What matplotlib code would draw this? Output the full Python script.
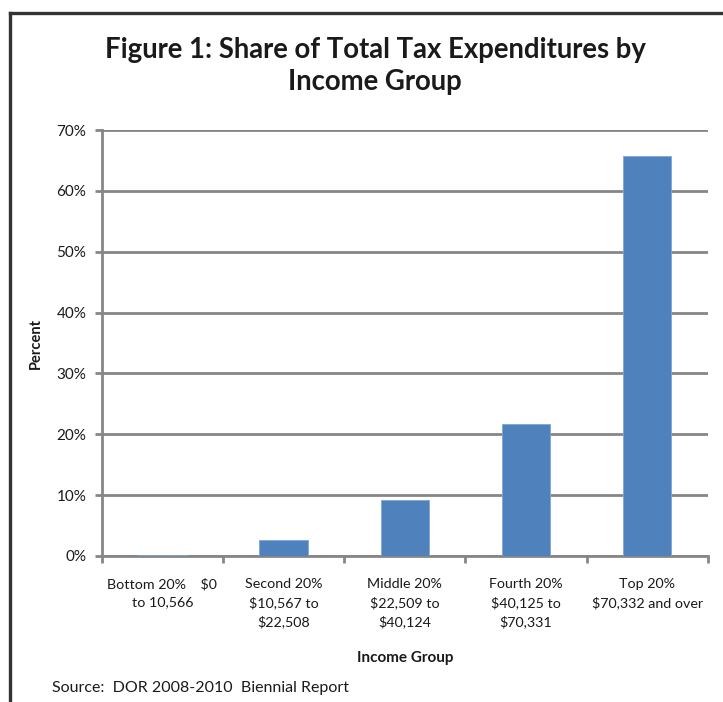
import matplotlib
matplotlib.use("Agg")
from matplotlib import pyplot as plt
from matplotlib.lines import Line2D
from matplotlib.ticker import FuncFormatter
import numpy as np

groups = ["Bottom 20%    $0\nto 10,566",
          "Second 20%\n$10,567 to\n$22,508",
          "Middle 20%\n$22,509 to\n$40,124",
          "Fourth 20%\n$40,125 to\n$70,331",
          "Top 20%\n$70,332 and over"]
shares = [0.2, 2.7, 9.2, 21.7, 65.8]
yticks = [0, 10, 20, 30, 40, 50, 60, 70]

plt.rcParams['font.family'] = ['Lato', 'DejaVu Sans']
grid_gray = '#868686'
text_col = '#1a1a1a'

fig = plt.figure(figsize=(7.23, 7.02), dpi=100)
ax = fig.add_axes([0.1407, 0.208, 0.979 - 0.1407, 0.8148 - 0.208])

x = np.arange(len(groups))
ax.bar(x, shares, width=0.4, color='#4F81BD', edgecolor='#7FA6D6', linewidth=0.6, zorder=3)

ax.set_xlim(-0.5, 4.5)
ax.set_ylim(0, 70)
ax.set_yticks(yticks)
ax.yaxis.set_major_formatter(FuncFormatter(lambda v, p: f"{v:.0f}%"))
ax.yaxis.grid(True, color=grid_gray, linewidth=2.0, zorder=0)

ax.set_xticks(x)
ax.set_xticklabels(groups, fontsize=10.3, linespacing=1.58, color=text_col)
ax.set_xticks(np.arange(-0.5, 5, 1), minor=True)
ax.tick_params(axis='x', which='major', length=0, pad=16)
ax.tick_params(axis='x', which='minor', length=5, width=2, color=grid_gray, direction='out')
ax.tick_params(axis='y', length=5, width=2, color=grid_gray, labelsize=11,
               pad=6, labelcolor=text_col)

for side in ['top', 'right']:
    ax.spines[side].set_visible(False)
for side in ['left', 'bottom']:
    ax.spines[side].set_color(grid_gray)
    ax.spines[side].set_linewidth(2.0)

fig.text(0.519, 0.906, "Figure 1: Share of Total Tax Expenditures by\nIncome Group",
         ha='center', va='center', fontsize=19.8, fontweight='bold', linespacing=1.33,
         color=text_col)
fig.text(0.049, 0.511, "Percent", rotation=90, ha='center', va='center',
         fontsize=10.5, fontweight='bold', color=text_col)
fig.text(0.561, 0.063, "Income Group", ha='center', va='center',
         fontsize=11, fontweight='bold', color=text_col)
fig.text(0.072, 0.020, "Source:  DOR 2008-2010  Biennial Report", ha='left', va='center',
         fontsize=11.5, color=text_col)

# outer frame of the chart (cut off at right and bottom)
bx = 10 / 723
by = 1 - 12.5 / 702
fig.add_artist(Line2D([bx, bx], [0, by], transform=fig.transFigure,
                      color='#333333', linewidth=2.4))
fig.add_artist(Line2D([bx, 1], [by, by], transform=fig.transFigure,
                      color='#333333', linewidth=2.4))

fig.savefig("out.png", dpi=100)
